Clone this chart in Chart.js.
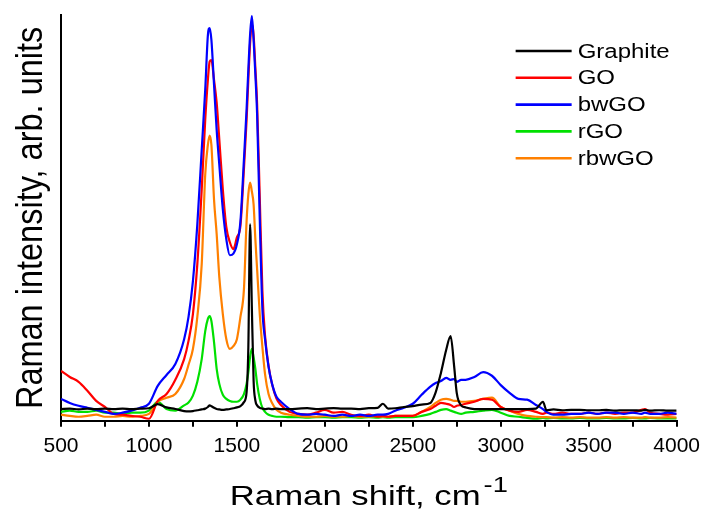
<!DOCTYPE html>
<html>
<head>
<title>Raman spectra</title>
<script src="https://cdn.jsdelivr.net/npm/chart.js"></script>
<style>
  body { margin: 0; background: #fff; }
</style>
</head>
<body>
<canvas id="ramanChart" width="707" height="518"></canvas>
<script>
// Raman shift grid (cm-1), shared by every spectrum
const ramanShift = [
  500, 550, 600, 650, 700, 750, 800, 850, 900, 950,
  1000, 1050, 1100, 1150, 1200, 1225, 1250, 1275, 1300, 1320,
  1335, 1345, 1355, 1370, 1385, 1400, 1420, 1440, 1460, 1480,
  1500, 1520, 1540, 1555, 1565, 1575, 1585, 1595, 1605, 1615,
  1630, 1645, 1660, 1680, 1700, 1725, 1750, 1800, 1850, 1900,
  1950, 2000, 2050, 2100, 2150, 2200, 2250, 2300, 2330, 2360,
  2400, 2450, 2500, 2550, 2600, 2630, 2660, 2690, 2715, 2735,
  2750, 2775, 2800, 2850, 2900, 2950, 3000, 3050, 3100, 3150,
  3200, 3240, 3260, 3300, 3350, 3400, 3450, 3500, 3550, 3600,
  3650, 3700, 3750, 3800, 3820, 3850, 3900, 3950, 4000
];

const graphite = [
  2.9, 3.0, 2.8, 3.0, 2.9, 3.0, 2.9, 3.0, 2.9, 3.0,
  3.1, 4.1, 3.3, 2.9, 2.4, 2.3, 2.4, 2.6, 2.8, 3.0,
  3.4, 3.8, 3.6, 3.2, 2.9, 2.8, 2.7, 2.8, 2.9, 3.1,
  3.3, 3.6, 4.6, 7.0, 18.0, 48.4, 28.0, 9.8, 5.0, 3.8,
  3.2, 3.0, 2.9, 3.0, 2.9, 3.0, 2.9, 2.9, 3.0, 3.1,
  2.9, 3.0, 3.1, 3.0, 3.0, 2.9, 3.1, 3.2, 4.2, 3.0,
  3.1, 3.4, 3.6, 4.0, 4.4, 7.0, 11.8, 17.5, 20.9, 13.5,
  6.8, 3.8, 3.3, 2.9, 2.9, 2.9, 2.9, 2.9, 2.9, 2.9,
  3.0, 4.7, 2.6, 2.8, 2.6, 2.7, 2.7, 2.6, 2.6, 2.7,
  2.5, 2.6, 2.6, 2.5, 2.7, 2.5, 2.6, 2.5, 2.5
];

const go = [
  12.3, 10.8, 9.6, 7.4, 4.9, 3.4, 1.7, 1.5, 1.2, 1.0,
  0.5, 4.9, 6.6, 10.1, 15.2, 19.7, 26.3, 38.6, 57.0, 74.2,
  84.0, 88.5, 88.9, 84.0, 78.4, 69.3, 57.0, 47.7, 44.0, 42.3,
  45.2, 48.0, 62.0, 74.0, 84.0, 93.0, 97.8, 95.0, 87.0, 78.0,
  55.0, 32.0, 21.0, 13.5, 9.0, 5.5, 3.9, 2.2, 1.7, 1.5,
  2.0, 2.7, 2.0, 2.2, 1.5, 1.2, 1.5, 1.0, 1.2, 1.0,
  1.2, 1.2, 1.2, 2.2, 2.9, 3.7, 4.4, 4.2, 3.9, 3.4,
  3.7, 3.9, 4.2, 4.7, 5.4, 5.2, 3.4, 2.5, 2.2, 2.7,
  2.2, 1.7, 2.0, 1.7, 2.0, 1.7, 1.7, 2.0, 1.7, 2.0,
  1.7, 2.0, 2.0, 2.7, 2.9, 2.0, 1.7, 1.5, 1.7
];

const bwgo = [
  5.4, 4.4, 3.7, 3.2, 2.7, 2.2, 1.7, 2.0, 2.5, 3.2,
  4.2, 8.6, 11.3, 14.0, 20.1, 25.6, 34.4, 48.4, 66.8, 81.6,
  95.0, 96.8, 93.9, 82.8, 71.7, 63.1, 52.1, 44.7, 40.8, 41.2,
  43.5, 49.1, 64.4, 76.7, 86.5, 95.1, 99.7, 93.9, 85.3, 75.4,
  49.6, 27.5, 20.1, 13.3, 9.1, 5.9, 4.7, 2.9, 1.7, 1.5,
  1.7, 1.5, 1.2, 1.5, 1.2, 1.5, 1.2, 1.5, 1.5, 1.7,
  2.5, 3.2, 4.2, 6.4, 8.4, 9.3, 9.8, 10.6, 10.1, 10.3,
  9.6, 10.1, 10.1, 10.8, 12.0, 11.1, 8.8, 6.9, 5.4, 5.2,
  3.9, 2.9, 2.2, 1.5, 1.5, 1.7, 1.7, 2.0, 1.7, 2.0,
  2.0, 1.7, 2.0, 1.7, 2.0, 1.7, 1.7, 2.0, 1.7
];

const rgo = [
  2.2, 2.5, 2.2, 2.2, 2.5, 2.0, 2.0, 1.7, 2.0, 2.0,
  2.5, 4.7, 2.9, 2.5, 3.8, 4.5, 6.2, 9.6, 15.2, 22.1,
  25.1, 25.8, 24.6, 19.4, 12.8, 9.1, 6.4, 5.4, 4.9, 4.7,
  4.7, 5.2, 6.6, 9.1, 12.0, 15.7, 17.7, 15.7, 12.8, 9.1,
  5.4, 3.2, 2.2, 1.5, 1.2, 1.0, 1.0, 0.9, 0.9, 0.8,
  0.9, 0.9, 0.8, 0.9, 0.9, 0.8, 0.9, 0.8, 0.9, 0.8,
  0.9, 0.9, 0.9, 1.2, 1.7, 2.2, 2.7, 2.9, 2.5, 2.2,
  2.0, 1.7, 2.0, 2.2, 2.5, 2.7, 2.0, 1.2, 1.0, 0.7,
  0.5, 0.7, 0.6, 0.7, 0.6, 0.6, 0.7, 0.6, 0.6, 0.7,
  0.6, 0.6, 0.7, 0.6, 0.6, 0.7, 0.6, 0.6, 0.6
];

const rbwgo = [
  1.5, 1.2, 1.0, 1.2, 1.5, 1.0, 1.0, 1.2, 1.0, 1.2,
  1.7, 4.7, 5.7, 6.6, 10.3, 13.8, 17.7, 25.6, 38.6, 60.7,
  68.0, 70.3, 68.0, 54.5, 46.0, 35.4, 26.3, 20.1, 17.7, 18.4,
  20.1, 25.6, 32.4, 49.1, 55.8, 58.7, 56.5, 53.3, 44.7, 37.3,
  26.3, 18.2, 11.5, 6.6, 4.4, 2.7, 2.0, 1.5, 1.2, 1.0,
  1.0, 1.2, 1.0, 1.0, 1.2, 1.0, 1.0, 1.2, 1.0, 1.0,
  1.2, 1.2, 1.2, 2.2, 3.4, 4.4, 5.2, 5.4, 5.2, 4.9,
  4.9, 4.7, 4.7, 4.9, 5.4, 5.7, 3.4, 2.5, 1.7, 1.2,
  1.0, 0.9, 0.9, 0.8, 0.9, 0.8, 0.9, 0.8, 0.8, 0.9,
  0.8, 0.9, 0.8, 0.8, 0.9, 0.8, 0.8, 0.9, 0.8
];

const majorTicks = [500, 1000, 1500, 2000, 2500, 3000, 3500, 4000];

const FONT = '"Liberation Sans", Arial, sans-serif';

function points(values) {
  return ramanShift.map((x, i) => ({ x: x, y: values[i] }));
}

function spectrum(label, values, color, order) {
  return {
    label: label,
    data: points(values),
    borderColor: color,
    backgroundColor: color,
    borderWidth: 2.2,
    pointRadius: 0,
    cubicInterpolationMode: 'monotone',
    order: order
  };
}

// draws the axis titles and the legend inside the plot
const decorations = {
  id: 'decorations',
  afterDraw(chart) {
    const ctx = chart.ctx;
    const area = chart.chartArea;
    ctx.save();
    ctx.fillStyle = '#000';
    ctx.textBaseline = 'alphabetic';

    // y title
    ctx.save();
    ctx.font = '32.5px ' + FONT;
    ctx.textAlign = 'center';
    ctx.translate(area.left - 19, (area.top + area.bottom) / 2);
    ctx.rotate(-Math.PI / 2);
    ctx.scale(1, 1.15);
    ctx.fillText('Raman intensity, arb. units', 0, 0);
    ctx.restore();

    // x title with superscript
    const sx = 1.24;
    ctx.textAlign = 'left';
    ctx.font = '28px ' + FONT;
    const wMain = ctx.measureText('Raman shift, cm').width * sx;
    ctx.font = '22px ' + FONT;
    const wSup = ctx.measureText('-1').width * sx;
    const x0 = (area.left + area.right) / 2 - (wMain + wSup + 3) / 2;
    const base = area.bottom + 84;
    ctx.save();
    ctx.translate(x0, base);
    ctx.scale(sx, 1);
    ctx.font = '28px ' + FONT;
    ctx.fillText('Raman shift, cm', 0, 0);
    ctx.restore();
    ctx.save();
    ctx.translate(x0 + wMain + 3, base - 13);
    ctx.scale(sx, 1);
    ctx.font = '22px ' + FONT;
    ctx.fillText('-1', 0, 0);
    ctx.restore();

    // legend
    const lx = area.right - 161;
    let ly = area.top + 36;
    chart.data.datasets.forEach(ds => {
      ctx.strokeStyle = ds.borderColor;
      ctx.lineWidth = 2.6;
      ctx.beginPath();
      ctx.moveTo(lx, ly);
      ctx.lineTo(lx + 56, ly);
      ctx.stroke();
      ctx.save();
      ctx.translate(lx + 62, ly + 1);
      ctx.scale(1.2, 1);
      ctx.font = '20px ' + FONT;
      ctx.textBaseline = 'middle';
      ctx.fillStyle = '#000';
      ctx.fillText(ds.label, 0, 0);
      ctx.restore();
      ly += 26.8;
    });
    ctx.restore();
  }
};

new Chart(document.getElementById('ramanChart'), {
  type: 'line',
  data: {
    datasets: [
      spectrum('Graphite', graphite, '#000000', 0),
      spectrum('GO', go, '#ff0000', 2),
      spectrum('bwGO', bwgo, '#0000ff', 1),
      spectrum('rGO', rgo, '#00e000', 4),
      spectrum('rbwGO', rbwgo, '#ff8000', 3)
    ]
  },
  options: {
    responsive: false,
    animation: false,
    layout: { padding: { left: 61, right: 29, top: 15, bottom: 52 } },
    plugins: {
      legend: { display: false },
      tooltip: { enabled: false }
    },
    scales: {
      x: {
        type: 'linear',
        min: 500,
        max: 4000,
        border: { display: true, color: '#000', width: 2 },
        grid: {
          display: true,
          drawOnChartArea: false,
          drawTicks: true,
          tickLength: 6,
          color: '#000',
          lineWidth: 2
        },
        ticks: {
          stepSize: 250,
          autoSkip: false,
          maxRotation: 0,
          padding: 7,
          color: '#000',
          font: { family: FONT, size: 21 },
          callback: v => majorTicks.includes(v) ? String(v) : ''
        }
      },
      y: {
        min: 0,
        max: 100,
        border: { display: true, color: '#000', width: 2 },
        grid: { display: false, drawTicks: false },
        ticks: { display: false }
      }
    }
  },
  plugins: [decorations]
});
</script>
</body>
</html>
